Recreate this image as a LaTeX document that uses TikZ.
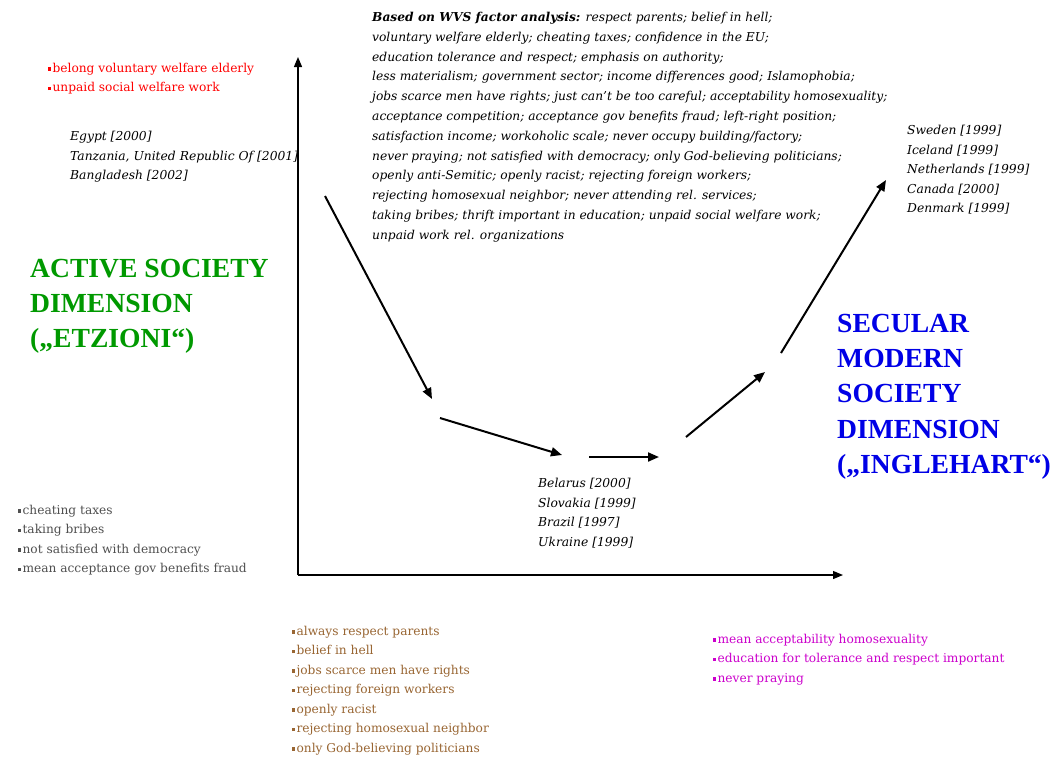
\documentclass[tikz,border=0pt]{standalone}
\usepackage{fontspec}
\setmainfont{DejaVu Serif}
\newfontfamily\headfont{Liberation Serif}
\usetikzlibrary{arrows.meta}
\definecolor{activegreen}{RGB}{0,153,0}
\definecolor{secularblue}{RGB}{0,0,230}
\definecolor{itemred}{RGB}{255,0,0}
\definecolor{itemgray}{RGB}{80,80,80}
\definecolor{itembrown}{RGB}{153,102,51}
\definecolor{itempink}{RGB}{204,0,204}
\newcommand{\sqb}{\rule[0.3ex]{0.26em}{0.26em}\hspace{0.1em}}

\begin{document}
\begin{tikzpicture}[x=1pt,y=-1pt,
    txt/.style={anchor=north west, inner sep=0pt, align=left},
    small/.style={txt, font=\fontsize{12.2}{19.5}\selectfont},
    cntry/.style={txt, font=\fontsize{12.3}{19.5}\selectfont\itshape},
    factors/.style={txt, font=\fontsize{12.25}{19.8}\selectfont\itshape},
    heading/.style={txt, font=\headfont\bfseries\fontsize{27.6}{35.2}\selectfont},
    axis/.style={-{Triangle[length=10pt,width=8pt]}, line width=1.2pt},
    trend/.style={-{Triangle[length=11pt,width=9pt]}, line width=2pt}]
  \useasboundingbox[fill=white] (0,0) rectangle (1055,756);

  % axes
  \coordinate (origin) at (298,575);
  \coordinate (ytop) at (298,57);
  \coordinate (xend) at (843,575);
  \draw[axis] (origin) -- (ytop);
  \draw[axis] (origin) -- (xend);

  % the V-shaped path
  \coordinate (a1) at (325,196);
  \coordinate (a2) at (432,399);
  \coordinate (b1) at (440,418);
  \coordinate (b2) at (562,455);
  \coordinate (c1) at (589,457);
  \coordinate (c2) at (659,457);
  \coordinate (d1) at (686,437);
  \coordinate (d2) at (765,372);
  \coordinate (e1) at (781,353);
  \coordinate (e2) at (886,180);
  \draw[trend] (a1) -- (a2);
  \draw[trend] (b1) -- (b2);
  \draw[trend] (c1) -- (c2);
  \draw[trend] (d1) -- (d2);
  \draw[trend] (e1) -- (e2);

  \node[factors] (wvs) at (372,12) {\textbf{Based on WVS factor analysis:} respect parents; belief in hell;\\
    voluntary welfare elderly; cheating taxes; confidence in the EU;\\
    education tolerance and respect; emphasis on authority;\\
    less materialism; government sector; income differences good; Islamophobia;\\
    jobs scarce men have rights; just can’t be too careful; acceptability homosexuality;\\
    acceptance competition; acceptance gov benefits fraud; left-right position;\\
    satisfaction income; workoholic scale; never occupy building/factory;\\
    never praying; not satisfied with democracy; only God-believing politicians;\\
    openly anti-Semitic; openly racist; rejecting foreign workers;\\
    rejecting homosexual neighbor; never attending rel. services;\\
    taking bribes; thrift important in education; unpaid social welfare work;\\
    unpaid work rel. organizations};

  \node[small, text=itemred] (redlist) at (48,63) {\sqb belong voluntary welfare elderly\\
    \sqb unpaid social welfare work};

  \node[cntry] (africa) at (70,131) {Egypt [2000]\\
    Tanzania, United Republic Of [2001]\\
    Bangladesh [2002]};
  \node[cntry] (transit) at (538,478) {Belarus [2000]\\
    Slovakia [1999]\\
    Brazil [1997]\\
    Ukraine [1999]};
  \node[cntry] (nordic) at (907,125) {Sweden [1999]\\
    Iceland [1999]\\
    Netherlands [1999]\\
    Canada [2000]\\
    Denmark [1999]};

  \node[heading, text=activegreen] (active) at (30,259) {ACTIVE SOCIETY\\
    DIMENSION\\
    („ETZIONI“)};
  \node[heading, text=secularblue] (secular) at (837,314) {SECULAR\\
    MODERN\\
    SOCIETY\\
    DIMENSION\\
    („INGLEHART“)};

  \node[small, text=itemgray] (graylist) at (18,505) {\sqb cheating taxes\\
    \sqb taking bribes\\
    \sqb not satisfied with democracy\\
    \sqb mean acceptance gov benefits fraud};
  \node[small, text=itembrown] (brownlist) at (292,626) {\sqb always respect parents\\
    \sqb belief in hell\\
    \sqb jobs scarce men have rights\\
    \sqb rejecting foreign workers\\
    \sqb openly racist\\
    \sqb rejecting homosexual neighbor\\
    \sqb only God-believing politicians};
  \node[small, text=itempink] (pinklist) at (713,634) {\sqb mean acceptability homosexuality\\
    \sqb education for tolerance and respect important\\
    \sqb never praying};
\end{tikzpicture}
\end{document}
